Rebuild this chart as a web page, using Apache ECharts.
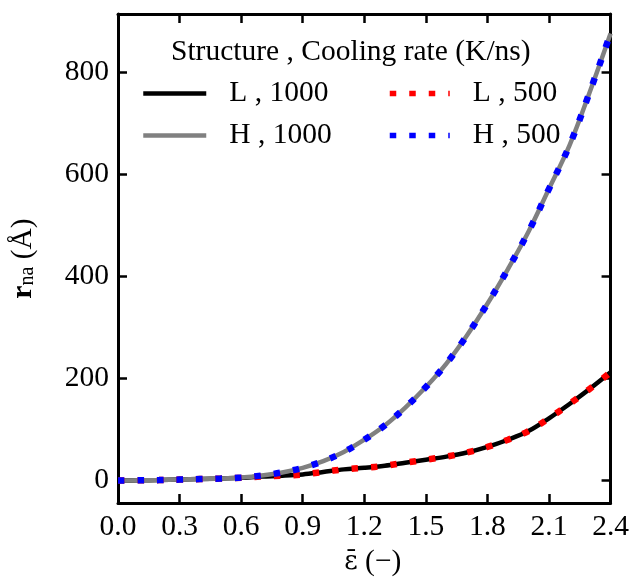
<!DOCTYPE html>
<html>
<head>
<meta charset="utf-8">
<script src="https://cdn.jsdelivr.net/npm/echarts@6/dist/echarts.min.js"></script>
<style>
  html, body { margin: 0; padding: 0; background: #fff; }
  #chart { width: 632px; height: 582px; }
</style>
</head>
<body>
<div id="chart"></div>
<script>
// Equivalent strain values (x) shared by all curves
const strain = [0.0, 0.1, 0.2, 0.3, 0.4, 0.5, 0.6, 0.7, 0.8, 0.9, 1.0, 1.1, 1.2,
                1.3, 1.4, 1.5, 1.6, 1.7, 1.8, 1.9, 2.0, 2.1, 2.2, 2.3, 2.4];

// r_na (Å) per structure and cooling rate
const rL1000 = [0, 0.5, 1, 2, 3, 4, 5.5, 8, 9.5, 12, 17, 22, 25,
                29, 35, 41, 47, 55, 66, 80, 97, 122, 150, 180, 212];
const rH1000 = [0, 0.5, 1, 2, 3, 4, 6, 10, 16, 25, 38, 56, 80,
                108, 143, 183, 229, 284, 346, 414, 487, 571, 656, 762, 875];
const rL500  = [0, 0.5, 1, 2, 3, 4, 5.5, 8, 9.5, 12, 17, 22, 25,
                29, 35, 41, 47, 55, 66, 80, 97, 122, 150, 180, 212];
const rH500  = [0, 0.5, 1, 2, 3, 4, 6, 10, 16, 25, 38, 56, 80,
                108, 143, 183, 229, 284, 346, 414, 487, 571, 656, 762, 875];

const xTicks = [0.0, 0.3, 0.6, 0.9, 1.2, 1.5, 1.8, 2.1, 2.4];
const yTicks = [0, 200, 400, 600, 800];

const FONT = 'Liberation Serif';
const FS = 29.5;
const pairs = vals => strain.map((x, i) => [x, vals[i]]);

const axisLineStyle = { show: true, onZero: false, lineStyle: { color: '#000', width: 3 } };
const tickStyle = { show: true, inside: true, length: 9, lineStyle: { color: '#000', width: 2.5 } };
const hidden = 'rgba(0,0,0,0)';

const chart = echarts.init(document.getElementById('chart'), null, { renderer: 'canvas' });

chart.setOption({
  animation: false,
  backgroundColor: '#fff',
  grid: { left: 116, right: 21, top: 14, bottom: 76, containLabel: false },
  title: {
    text: 'Structure , Cooling rate (K/ns)',
    left: 171, top: 37, padding: 0,
    textStyle: { fontFamily: FONT, fontSize: FS, fontWeight: 'normal', color: '#000' }
  },
  legend: [
    {
      data: ['L , 1000', 'H , 1000'],
      orient: 'vertical', left: 141, top: 78, padding: 0,
      itemWidth: 63, itemHeight: 14, itemGap: 11,
      itemStyle: { color: hidden, borderColor: hidden, borderWidth: 0 },
      lineStyle: { width: 4.5 },
      textStyle: { fontFamily: FONT, fontSize: FS, color: '#000', lineHeight: 31, padding: [0, 0, 0, 18] }
    },
    {
      data: ['L , 500', 'H , 500'],
      orient: 'vertical', left: 387, top: 78, padding: 0,
      itemWidth: 60, itemHeight: 14, itemGap: 11,
      itemStyle: { color: hidden, borderColor: hidden, borderWidth: 0 },
      lineStyle: { width: 5.5 },
      textStyle: { fontFamily: FONT, fontSize: FS, color: '#000', lineHeight: 31, padding: [0, 0, 0, 18] }
    }
  ],
  xAxis: [
    {
      type: 'value', position: 'bottom', min: 0, max: 2.4, interval: 0.3,
      axisLine: axisLineStyle,
      axisTick: Object.assign({}, tickStyle, { customValues: xTicks }),
      axisLabel: {
        customValues: xTicks,
        fontFamily: FONT, fontSize: FS, color: '#000', margin: 9,
        formatter: v => Number(v).toFixed(1)
      },
      splitLine: { show: false },
      name: '{e|ε̄} {p|(−)}', nameLocation: 'middle', nameGap: 42,
      nameTextStyle: {
        fontFamily: FONT, fontSize: FS, color: '#000', padding: [0, 0, 0, 17],
        rich: {
          e: { fontFamily: 'DejaVu Serif', fontSize: 26, color: '#000' },
          p: { fontFamily: FONT, fontSize: FS, color: '#000' }
        }
      }
    },
    {
      type: 'value', position: 'top', min: 0, max: 2.4, interval: 0.3,
      axisLine: axisLineStyle,
      axisTick: Object.assign({}, tickStyle, { customValues: xTicks }),
      axisLabel: { show: false },
      splitLine: { show: false }
    }
  ],
  yAxis: [
    {
      type: 'value', position: 'left', min: -44, max: 913,
      axisLine: axisLineStyle,
      axisTick: Object.assign({}, tickStyle, { customValues: yTicks }),
      axisLabel: {
        customValues: yTicks,
        fontFamily: FONT, fontSize: FS, color: '#000', margin: 9
      },
      splitLine: { show: false },
      name: '{r|r}{sub|na} {p|(Å)}', nameLocation: 'middle', nameGap: 64,
      nameTextStyle: {
        fontFamily: FONT, fontSize: FS, color: '#000', padding: [0, 0, 16, 0],
        rich: {
          r: { fontFamily: FONT, fontSize: FS, fontWeight: 'bold', color: '#000' },
          sub: { fontFamily: FONT, fontSize: 20, color: '#000', padding: [9, 0, 0, 0] },
          p: { fontFamily: FONT, fontSize: FS, color: '#000' }
        }
      }
    },
    {
      type: 'value', position: 'right', min: -44, max: 913,
      axisLine: axisLineStyle,
      axisTick: Object.assign({}, tickStyle, { customValues: yTicks }),
      axisLabel: { show: false },
      splitLine: { show: false }
    }
  ],
  series: [
    {
      name: 'L , 1000', type: 'line', data: pairs(rL1000),
      smooth: 0.35, showSymbol: false, symbol: 'none',
      lineStyle: { color: '#000', width: 4.5 }, itemStyle: { color: '#000' }, z: 2
    },
    {
      name: 'H , 1000', type: 'line', data: pairs(rH1000),
      smooth: 0.35, showSymbol: false, symbol: 'none',
      lineStyle: { color: '#808080', width: 4.5 }, itemStyle: { color: '#808080' }, z: 2
    },
    {
      name: 'L , 500', type: 'line', data: pairs(rL500),
      smooth: 0.35, showSymbol: false, symbol: 'none',
      lineStyle: { color: '#ff0000', width: 6.5, type: [6.5, 13], cap: 'butt' },
      itemStyle: { color: '#ff0000' }, z: 3
    },
    {
      name: 'H , 500', type: 'line', data: pairs(rH500),
      smooth: 0.35, showSymbol: false, symbol: 'none',
      lineStyle: { color: '#0000ff', width: 6.5, type: [6.5, 13], cap: 'butt' },
      itemStyle: { color: '#0000ff' }, z: 3
    }
  ]
});
</script>
</body>
</html>
